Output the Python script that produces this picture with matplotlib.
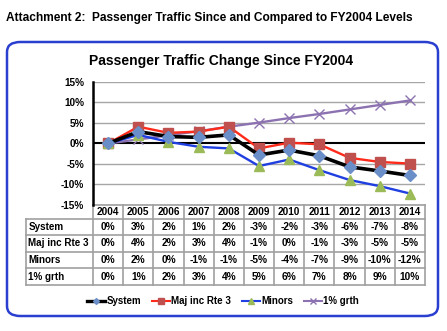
import matplotlib
matplotlib.use("Agg")
import matplotlib.pyplot as plt
from matplotlib.patches import FancyBboxPatch
from matplotlib.lines import Line2D
import matplotlib.transforms as mtrans

plt.rcParams['font.family'] = ['Liberation Sans', 'DejaVu Sans']
plt.rcParams['font.weight'] = 'bold'

years = ["2004", "2005", "2006", "2007", "2008", "2009", "2010", "2011", "2012", "2013", "2014"]
system = [0, 2.9, 1.7, 1.5, 2.1, -2.8, -1.6, -3.0, -5.7, -6.7, -7.8]
maj = [0, 4.1, 2.6, 2.9, 4.1, -1.2, 0.2, -0.2, -3.5, -4.5, -4.9]
minors = [0, 2.1, 0.4, -0.8, -1.2, -5.5, -3.9, -6.5, -8.9, -10.4, -12.2]
grth = [0, 1.0, 2.0, 3.0, 4.1, 5.1, 6.2, 7.2, 8.3, 9.4, 10.5]

series_names = ["System", "Maj inc Rte 3", "Minors", "1% grth"]
table_rows = [
    ["0%", "3%", "2%", "1%", "2%", "-3%", "-2%", "-3%", "-6%", "-7%", "-8%"],
    ["0%", "4%", "2%", "3%", "4%", "-1%", "0%", "-1%", "-3%", "-5%", "-5%"],
    ["0%", "2%", "0%", "-1%", "-1%", "-5%", "-4%", "-7%", "-9%", "-10%", "-12%"],
    ["0%", "1%", "2%", "3%", "4%", "5%", "6%", "7%", "8%", "9%", "10%"],
]
yticks = [15, 10, 5, 0, -5, -10, -15]

W, H = 447, 331
fig = plt.figure(figsize=(W / 100, H / 100), dpi=100)

def px(x, y):
    return x / W, 1 - y / H

# header
fig.text(*px(6, 18), "Attachment 2:  Passenger Traffic Since and Compared to FY2004 Levels",
         fontsize=8.6, fontweight='bold', va='center', ha='left')

# rounded border
bx0, by0 = px(7, 316)
bx1, by1 = px(438, 42)
border = FancyBboxPatch((bx0, by0), bx1 - bx0, by1 - by0,
                        boxstyle="round,pad=0,rounding_size=0.03",
                        transform=fig.transFigure, fill=False,
                        edgecolor='#2a3fd0', linewidth=1.8)
fig.add_artist(border)

fig.text(*px(221, 61), "Passenger Traffic Change Since FY2004", fontsize=10,
         fontweight='bold', ha='center', va='center')

left, top, right, bottom = 93, 82, 425, 205
ax = fig.add_axes([left / W, 1 - bottom / H, (right - left) / W, (bottom - top) / H])
x = list(range(len(years)))
ax.set_xlim(-0.5, len(years) - 0.5)
ax.set_ylim(-15, 15)
ax.set_yticks(yticks)
ax.set_yticklabels([f"{v}%" for v in yticks], fontsize=7.2, fontweight='bold')
ax.set_xticks([])
for v in yticks:
    if v != 0:
        ax.axhline(v, color='#a6a6a6', lw=1.0, zorder=0)
ax.axhline(0, color='black', lw=1.5, zorder=1)
for s in ['top', 'right', 'bottom']:
    ax.spines[s].set_visible(False)
ax.spines['left'].set_linewidth(1.8)
ax.tick_params(axis='y', length=0, pad=6.5)

ax.plot(x, system, color='black', lw=2.6, marker='D', ms=6, mfc='#6a8fc8', mec='#6a8fc8', zorder=4, clip_on=False)
ax.plot(x, maj, color='#ff2a1a', lw=1.7, marker='s', ms=6.5, mfc='#c0504d', mec='#c0504d', zorder=3, clip_on=False)
ax.plot(x, minors, color='#1f3fe0', lw=1.7, marker='^', ms=7, mfc='#9bbb59', mec='#9bbb59', zorder=3, clip_on=False)
ax.plot(x, grth, color='#8c72b0', lw=1.7, marker='x', ms=7, mew=1.0, mfc='#8c72b0', mec='#8c72b0', zorder=2, clip_on=False)

# table (manual)
tr = mtrans.blended_transform_factory(ax.transData, fig.transFigure)
gc = '#a0a0a0'
row_y = [205, 218.5, 235, 251.5, 268, 285]
fy = [1 - v / H for v in row_y]
xl = -0.5 - (93 - 26) / ((right - left) / len(years))
xr = len(years) - 0.5
ax.add_line(Line2D([-0.5, xr], [fy[0], fy[0]], transform=tr, color=gc, lw=1.2, clip_on=False))
for k in range(1, 6):
    ax.add_line(Line2D([xl, xr], [fy[k], fy[k]], transform=tr, color=gc, lw=1.2, clip_on=False))
ax.add_line(Line2D([xl, xl], [fy[1], fy[5]], transform=tr, color=gc, lw=1.2, clip_on=False))
for i in range(len(years) + 1):
    xv = i - 0.5
    ax.add_line(Line2D([xv, xv], [fy[0], fy[5]], transform=tr, color=gc, lw=1.2, clip_on=False))
for i, yr in enumerate(years):
    ax.text(i, (fy[0] + fy[1]) / 2, yr, transform=tr, ha='center', va='center', fontsize=7.2, fontweight='bold')
for r, (name, vals) in enumerate(zip(series_names, table_rows)):
    yc = (fy[r + 1] + fy[r + 2]) / 2
    ax.text(xl + 0.08, yc, name, transform=tr, ha='left', va='center', fontsize=7.1, fontweight='bold')
    for i, v in enumerate(vals):
        ax.text(i, yc, v, transform=tr, ha='center', va='center', fontsize=7.3, fontweight='bold')

# legend
handles = [
    Line2D([], [], color='black', lw=2.4, marker='D', ms=3, mfc='#6a8fc8', mec='#6a8fc8'),
    Line2D([], [], color='#ff2a1a', lw=1.5, marker='s', ms=4, mfc='#c0504d', mec='#c0504d'),
    Line2D([], [], color='#1f3fe0', lw=1.5, marker='^', ms=4, mfc='#9bbb59', mec='#9bbb59'),
    Line2D([], [], color='#8c72b0', lw=1.5, marker='x', ms=4, mfc='#8c72b0', mec='#8c72b0'),
]
fig.legend(handles, series_names, loc='center', bbox_to_anchor=px(223, 301), ncol=4,
           frameon=False, handlelength=1.9, handletextpad=0.1, columnspacing=1.1,
           prop={'weight': 'bold', 'size': 7.0})

fig.savefig("out.png", dpi=100)
